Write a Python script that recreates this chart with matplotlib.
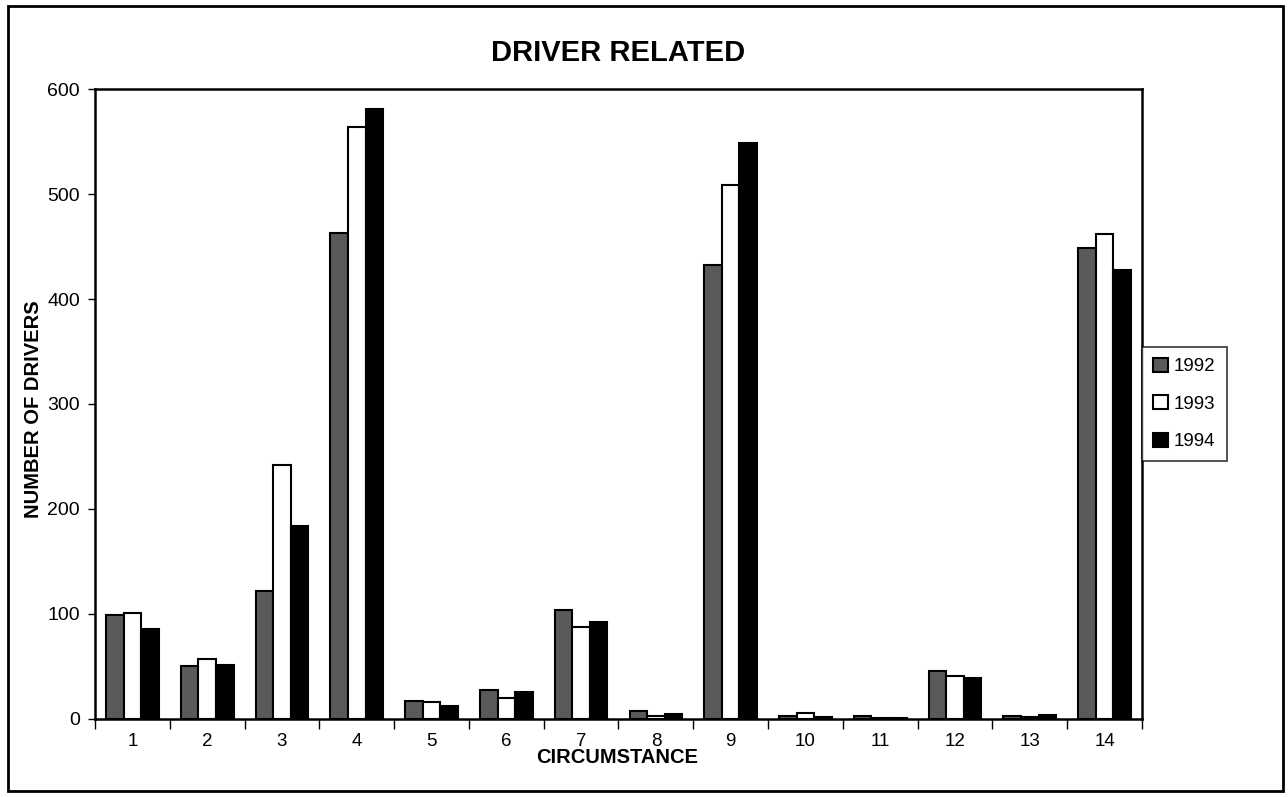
import numpy as np
import matplotlib.pyplot as plt
from matplotlib.patches import Rectangle

plt.rcParams['font.family'] = ['Liberation Sans', 'DejaVu Sans']

circumstance = [str(i) for i in range(1, 15)]
years = ['1992', '1993', '1994']
drivers_1992 = [99, 50, 122, 463, 17, 28, 104, 8, 432, 3, 2.5, 46, 3, 449]
drivers_1993 = [101, 57, 242, 564, 16, 20, 88, 3, 509, 6, 1, 41, 1.5, 462]
drivers_1994 = [86, 51, 184, 581, 12, 26, 92, 5, 549, 2, 1, 39, 4, 428]

fig = plt.figure(figsize=(12.88, 7.97), dpi=100)
ax = fig.add_axes([0.0738, 0.0979, 0.8128, 0.7904])

x = np.arange(len(circumstance))
w = 0.235
colors = ['#5a5a5a', 'white', 'black']
series = [drivers_1992, drivers_1993, drivers_1994]
for i, (vals, c, yr) in enumerate(zip(series, colors, years)):
    ax.bar(x + (i - 1) * w, vals, w, color=c, edgecolor='black', linewidth=1.5, label=yr)

ax.set_xlim(-0.5, len(circumstance) - 0.5)
ax.set_ylim(0, 600)
ax.set_yticks(range(0, 601, 100))
ax.set_xticks(x)
ax.set_xticklabels(circumstance)
ax.set_xticks(np.arange(-0.5, len(circumstance), 1), minor=True)
ax.tick_params(axis='x', which='major', length=0, labelsize=13.5, pad=10)
ax.tick_params(axis='x', which='minor', length=7, width=1, direction='out')
ax.tick_params(axis='y', length=5, width=1, direction='out', labelsize=14, pad=6)
for s in ax.spines.values():
    s.set_linewidth(1.8)

ax.set_title('DRIVER RELATED', fontsize=21, fontweight='bold', pad=20)
fig.text(0.479, 0.05, 'CIRCUMSTANCE', ha='center', va='center', fontsize=14.5, fontweight='bold')
fig.text(0.026, 0.487, 'NUMBER OF DRIVERS', ha='center', va='center', rotation=90,
         fontsize=14.5, fontweight='bold')

leg = ax.legend(loc='center left', bbox_to_anchor=(1.0, 0.5), fontsize=13.5, frameon=True,
                fancybox=False, edgecolor='black', handlelength=0.8, handleheight=0.8,
                handletextpad=0.3, borderpad=0.6, labelspacing=1.05, borderaxespad=0.0)
leg.get_frame().set_linewidth(1.2)

fig.patches.append(Rectangle((0.006, 0.008), 0.99, 0.985, transform=fig.transFigure,
                             fill=False, edgecolor='black', linewidth=2))

fig.savefig('out.png', dpi=100)
